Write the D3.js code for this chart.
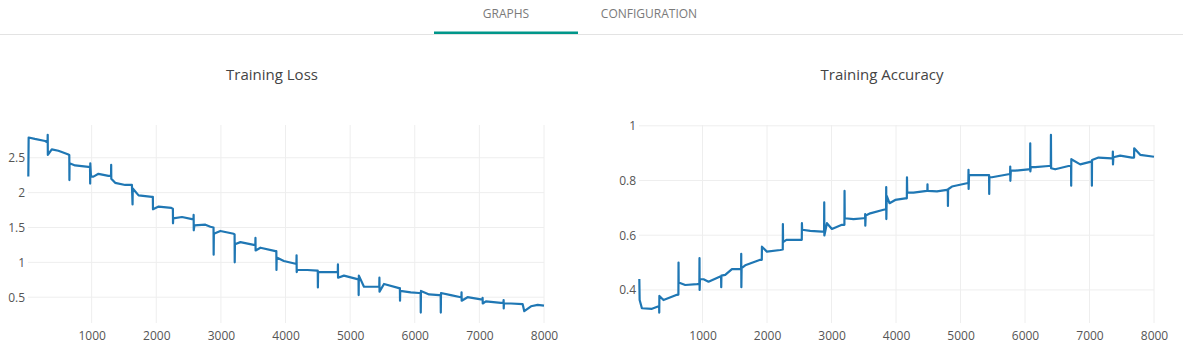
<!DOCTYPE html>
<html>
<head>
<meta charset="utf-8">
<script src="https://cdn.jsdelivr.net/npm/d3@7"></script>
<style>
  html, body { margin: 0; padding: 0; background: #fff; }
  svg { display: block; font-family: "Open Sans", sans-serif; }
</style>
</head>
<body>
<svg id="chart" width="1183" height="359"></svg>
<script>
// ---- Data ----
const tabs = ["GRAPHS", "CONFIGURATION"];
const chartTitles = ["Training Loss", "Training Accuracy"];
const xTicks = [1000, 2000, 3000, 4000, 5000, 6000, 7000, 8000];
const lossTicks = [0.5, 1, 1.5, 2, 2.5];
const accTicks = [0.4, 0.6, 0.8, 1];

// [step, loss]
const lossData = [
  [20, 2.23], [25, 2.79], [120, 2.77], [280, 2.74], [318, 2.72], [320, 2.83], [322, 2.54],
  [383, 2.62], [485, 2.60], [631, 2.55], [654, 2.54], [656, 2.18], [658, 2.42],
  [744, 2.39], [950, 2.37], [975, 2.36], [977, 2.13], [979, 2.42], [990, 2.23], [1028, 2.23],
  [1105, 2.27], [1260, 2.24], [1300, 2.24], [1302, 2.40], [1304, 2.20],
  [1364, 2.14], [1519, 2.11], [1623, 2.11], [1633, 1.83], [1636, 2.06], [1726, 1.96],
  [1933, 1.94], [1947, 1.94], [1949, 1.76], [2036, 1.80], [2233, 1.78], [2257, 1.77],
  [2259, 1.56], [2262, 1.63], [2398, 1.65], [2553, 1.62], [2576, 1.62], [2578, 1.68],
  [2580, 1.46], [2590, 1.53], [2760, 1.54], [2837, 1.51], [2886, 1.50], [2888, 1.11],
  [2891, 1.41], [2992, 1.45], [3198, 1.41], [3212, 1.40], [3214, 1.00], [3217, 1.26],
  [3302, 1.29], [3509, 1.25], [3533, 1.25], [3535, 1.35], [3537, 1.17], [3612, 1.21],
  [3845, 1.16], [3858, 1.16], [3860, 0.89], [3863, 1.07], [3974, 1.02], [4155, 0.98],
  [4169, 0.98], [4171, 1.10], [4173, 0.86], [4180, 0.89], [4337, 0.89], [4492, 0.88],
  [4499, 0.88], [4501, 0.64], [4504, 0.86], [4647, 0.86], [4802, 0.86], [4809, 0.86],
  [4811, 0.97], [4813, 0.78], [4904, 0.81], [5112, 0.76], [5130, 0.76], [5132, 0.53],
  [5135, 0.81], [5214, 0.65], [5422, 0.65], [5451, 0.65], [5453, 0.78], [5455, 0.58],
  [5524, 0.69], [5757, 0.63], [5770, 0.63], [5772, 0.45], [5775, 0.59], [5938, 0.57],
  [6067, 0.56], [6091, 0.56], [6093, 0.28], [6096, 0.59], [6222, 0.54], [6377, 0.53],
  [6401, 0.53], [6403, 0.28], [6406, 0.56], [6558, 0.53], [6713, 0.50], [6722, 0.50],
  [6724, 0.57], [6726, 0.45], [6817, 0.50], [7023, 0.47], [7048, 0.47], [7050, 0.49],
  [7052, 0.41], [7101, 0.44], [7333, 0.42], [7373, 0.42], [7375, 0.46], [7377, 0.34],
  [7380, 0.41], [7489, 0.41], [7670, 0.40], [7695, 0.30], [7799, 0.37], [7902, 0.39],
  [8000, 0.38]
];

// [step, accuracy]
const accData = [
  [20, 0.44], [25, 0.363], [60, 0.333], [216, 0.331], [309, 0.339], [327, 0.339],
  [329, 0.317], [331, 0.378], [395, 0.363], [603, 0.382], [626, 0.383], [628, 0.50],
  [630, 0.427], [732, 0.418], [913, 0.421], [951, 0.422], [953, 0.516], [955, 0.40],
  [960, 0.439], [1016, 0.439], [1093, 0.43], [1274, 0.449], [1288, 0.449], [1290, 0.41],
  [1293, 0.452], [1352, 0.455], [1456, 0.476], [1584, 0.476], [1598, 0.476], [1600, 0.532],
  [1602, 0.41], [1606, 0.48], [1662, 0.49], [1895, 0.51], [1919, 0.51], [1921, 0.558],
  [1998, 0.54], [2205, 0.546], [2244, 0.548], [2246, 0.641], [2249, 0.575], [2300, 0.583],
  [2539, 0.583], [2541, 0.644], [2545, 0.62], [2670, 0.616], [2851, 0.613], [2885, 0.613],
  [2887, 0.72], [2889, 0.599], [2929, 0.644], [3006, 0.623], [3161, 0.638], [3200, 0.638],
  [3202, 0.762], [3205, 0.662], [3341, 0.659], [3496, 0.662], [3520, 0.662], [3522, 0.677],
  [3524, 0.635], [3530, 0.672], [3600, 0.68], [3806, 0.693], [3846, 0.695], [3848, 0.776],
  [3850, 0.659], [3856, 0.744], [3899, 0.717], [3988, 0.729], [4143, 0.735], [4168, 0.735],
  [4170, 0.812], [4174, 0.756], [4271, 0.756], [4479, 0.762], [4486, 0.762], [4488, 0.786],
  [4490, 0.762], [4634, 0.76], [4789, 0.766], [4803, 0.766], [4805, 0.707], [4808, 0.768],
  [4867, 0.778], [5099, 0.79], [5122, 0.79], [5124, 0.839], [5126, 0.769], [5132, 0.82],
  [5383, 0.82], [5443, 0.82], [5445, 0.751], [5448, 0.812], [5487, 0.812], [5744, 0.823],
  [5769, 0.823], [5771, 0.851], [5773, 0.799], [5780, 0.836], [5848, 0.836], [6054, 0.841],
  [6079, 0.841], [6081, 0.936], [6083, 0.833], [6090, 0.849], [6158, 0.849], [6365, 0.853],
  [6400, 0.853], [6402, 0.967], [6405, 0.845], [6468, 0.841], [6675, 0.853], [6714, 0.853],
  [6716, 0.781], [6718, 0.878], [6856, 0.859], [7026, 0.869], [7035, 0.869], [7037, 0.781],
  [7039, 0.875], [7140, 0.884], [7347, 0.881], [7360, 0.881], [7362, 0.906], [7364, 0.859],
  [7370, 0.885], [7476, 0.891], [7657, 0.884], [7691, 0.884], [7693, 0.918], [7786, 0.894],
  [8000, 0.887]
];

// ---- Drawing ----
const svg = d3.select("#chart");
const W = 1183;

// Tabs header
svg.append("line").attr("x1", 0).attr("x2", W).attr("y1", 34.5).attr("y2", 34.5)
  .attr("stroke", "#e3e3e3").attr("stroke-width", 1);
const tabCenters = [506, 649];
tabs.forEach((t, i) => {
  svg.append("text").attr("x", tabCenters[i]).attr("y", 18)
    .attr("text-anchor", "middle").attr("font-size", 12)
    .attr("fill", "#7a7a7a").text(t);
});
svg.append("rect").attr("x", 434).attr("y", 31.5).attr("width", 144).attr("height", 2.5)
  .attr("fill", "#00968a");

function drawChart(cfg) {
  const { left, right, top, bottom, data, yDomain, yTicks, title, titleX } = cfg;
  const g = svg.append("g");
  const x = d3.scaleLinear().domain([15, 8000]).range([left, right]);
  const y = d3.scaleLinear().domain(yDomain).range([bottom, top]);

  // grid
  g.append("g").selectAll("line.v").data(xTicks).join("line")
    .attr("x1", d => x(d)).attr("x2", d => x(d)).attr("y1", top).attr("y2", bottom)
    .attr("stroke", "#eeeeee").attr("stroke-width", 1);
  g.append("g").selectAll("line.h").data(yTicks).join("line")
    .attr("x1", left).attr("x2", right).attr("y1", d => y(d)).attr("y2", d => y(d))
    .attr("stroke", "#eeeeee").attr("stroke-width", 1);

  // axes (labels only, like plotly)
  const xAxis = g.append("g").attr("transform", `translate(0,${bottom})`)
    .call(d3.axisBottom(x).tickValues(xTicks).tickSize(0).tickPadding(8).tickFormat(d3.format("d")));
  const yAxis = g.append("g").attr("transform", `translate(${left},0)`)
    .call(d3.axisLeft(y).tickValues(yTicks).tickSize(0).tickPadding(3).tickFormat(d => String(d)));
  [xAxis, yAxis].forEach(a => {
    a.select(".domain").remove();
    a.selectAll("text").attr("font-family", "'Open Sans', sans-serif")
      .attr("font-size", 12).attr("fill", "#555");
  });

  // line
  const line = d3.line().x(d => x(d[0])).y(d => y(d[1]));
  g.append("path").datum(data).attr("d", line)
    .attr("fill", "none").attr("stroke", "#1f77b4").attr("stroke-width", 2.2)
    .attr("stroke-linejoin", "round");

  // title
  svg.append("text").attr("x", titleX).attr("y", 80).attr("text-anchor", "middle")
    .attr("font-size", 15).attr("fill", "#444").text(title);
}

drawChart({ left: 28, right: 544, top: 125, bottom: 323, data: lossData,
  yDomain: [0.13, 2.97], yTicks: lossTicks, title: chartTitles[0], titleX: 272 });
drawChart({ left: 639, right: 1154, top: 125, bottom: 323, data: accData,
  yDomain: [0.279, 1.003], yTicks: accTicks, title: chartTitles[1], titleX: 882 });
</script>
</body>
</html>
